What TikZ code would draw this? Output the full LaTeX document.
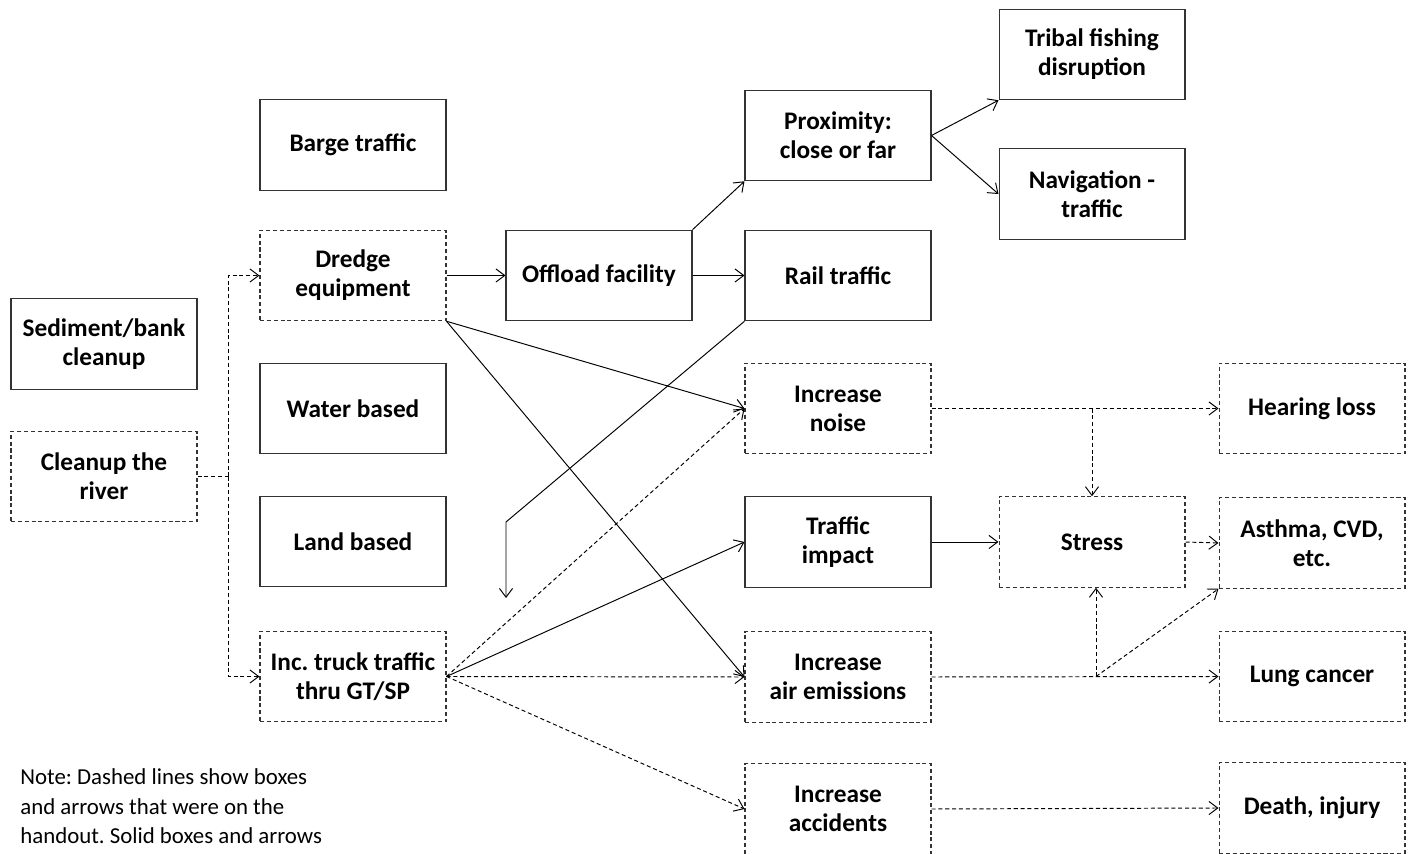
\documentclass[tikz,border=0pt]{standalone}
\usepackage{fontspec}
\setmainfont{Carlito}
\usetikzlibrary{arrows.meta}
\frenchspacing
\begin{document}
\frenchspacing
\begin{tikzpicture}[x=0.02cm,y=-0.02cm,
  box/.style={draw=black!80,line width=0.6pt,minimum width=3.72cm,minimum height=1.81cm,inner sep=0pt,
    align=center,font=\fontsize{14.4}{16.5}\selectfont\bfseries},
  dbox/.style={box,dash pattern=on 2.3pt off 1.6pt},
  arr/.style={line width=0.55pt,-{Straight Barb[length=5pt,width=7.5pt]}},
  sline/.style={line width=0.55pt},
  darr/.style={arr,dash pattern=on 2.3pt off 1.6pt},
  dline/.style={sline,dash pattern=on 2.3pt off 1.6pt}]
\useasboundingbox (0,0) rectangle (1414,854);
% column 1
\node[box]  (sediment) at (104,344)   {Sediment/bank\\cleanup};
\node[dbox] (cleanup)  at (104,476.5) {Cleanup the\\river};
% column 2
\node[box]  (barge)  at (353,145)   {Barge traffic};
\node[dbox] (dredge) at (353,275.5) {Dredge\\equipment};
\node[box]  (water)  at (353,408.5) {Water based};
\node[box]  (land)   at (353,541.5) {Land based};
\node[dbox] (truck)  at (353,676.5) {Inc. truck traffic\\thru GT/SP};
% column 3
\node[box] (offload) at (599,275.5) {Offload facility};
% column 4
\node[box]  (prox)      at (838,135.5) {Proximity:\\close or far};
\node[box]  (rail)      at (838,275.5) {Rail traffic};
\node[dbox] (noise)     at (838,408.5) {Increase\\noise};
\node[box]  (traffic)   at (838,542)   {Traffic\\impact};
\node[dbox] (air)       at (838,677)   {Increase\\air emissions};
\node[dbox] (accidents) at (838,809)   {Increase\\accidents};
% column 5
\node[box]  (tribal) at (1092,54.5) {Tribal fishing\\disruption};
\node[box]  (nav)    at (1092,194)  {Navigation -\\traffic};
\node[dbox] (stress) at (1092,542)  {Stress};
% column 6
\node[dbox] (hearing) at (1312,408.5) {Hearing loss};
\node[dbox] (asthma)  at (1312,543)   {Asthma, CVD,\\etc.};
\node[dbox] (lung)    at (1312,676.5) {Lung cancer};
\node[dbox] (death)   at (1312,808)   {Death, injury};
% note
\node[anchor=north west,align=left,inner sep=0pt,font=\fontsize{13.0}{17}\selectfont] (note) at (20,768)
  {Note: Dashed lines show boxes\\and arrows that were on the\\handout. Solid boxes and arrows};
% connectors
\coordinate (j1) at (228,476.5);
\draw[dline] (cleanup.east) -- (j1);
\draw[darr] (j1) |- (dredge.west);
\draw[darr] (j1) |- (truck.west);
\draw[arr] (dredge.east) -- (offload.west);
\draw[arr] (offload.east) -- (rail.west);
\draw[arr] (offload.north east) -- (prox.south west);
\draw[arr] (prox.east) -- (tribal.south west);
\draw[arr] (prox.east) -- (nav.west);
\draw[arr] (dredge.south east) -- (noise.west);
\draw[arr] (dredge.south east) -- (air.west);
\coordinate (rb) at (506,522);
\coordinate (re) at (506,598);
\draw[arr] (rail.south west) -- (rb) -- (re);
\draw[darr] (truck.east) -- (noise.west);
\draw[arr] (truck.east) -- (traffic.west);
\draw[darr] (truck.east) -- (air.west);
\draw[darr] (truck.east) -- (accidents.west);
\draw[darr] (noise.east) -- (hearing.west);
\coordinate (b1) at (1092,408.5);
\draw[darr] (b1) -- (stress.north);
\draw[arr] (traffic.east) -- (stress.west);
\draw[darr] (stress.east) -- (asthma.west);
\draw[darr] (air.east) -- (lung.west);
\coordinate (b2) at (1096,676.5);
\draw[darr] (b2) -- (b2 |- stress.south);
\draw[darr] (b2) -- (asthma.south west);
\draw[darr] (accidents.east) -- (death.west);
\end{tikzpicture}
\end{document}
